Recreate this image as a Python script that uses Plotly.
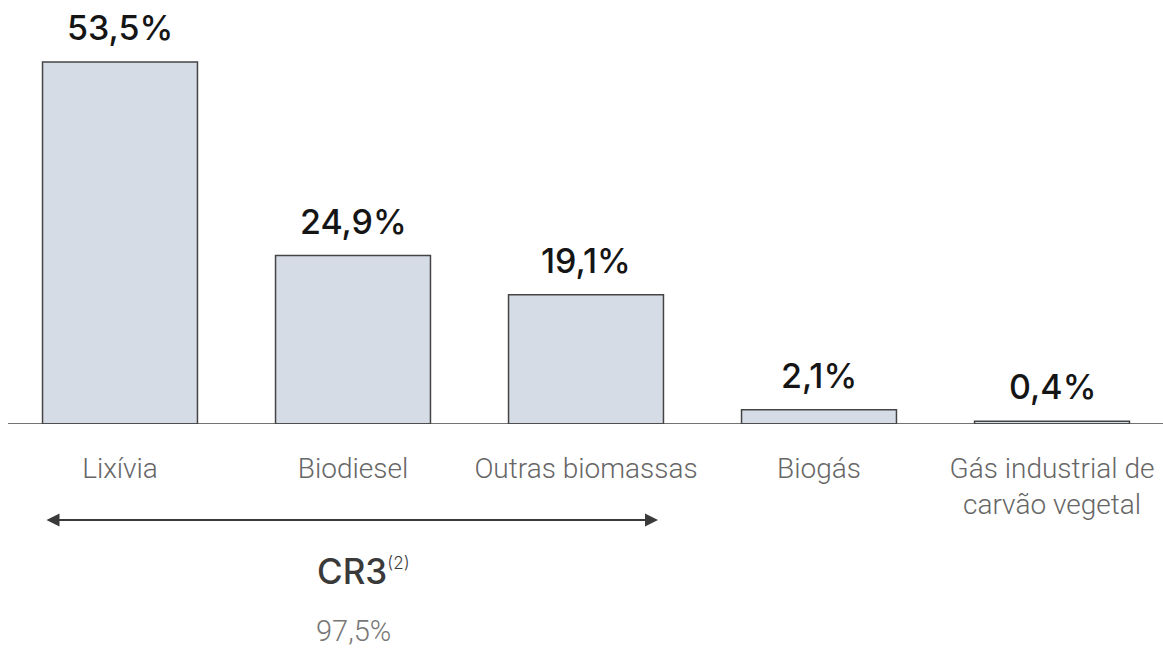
import plotly.graph_objects as go

categories = ["Lixívia", "Biodiesel", "Outras biomassas", "Biogás", "Gás industrial de<br>carvão vegetal"]
values = [53.5, 24.9, 19.1, 2.1, 0.4]
value_labels = ["53,5%", "24,9%", "19,1%", "2,1%", "0,4%"]
cr3_label = "CR3<sup><span style='font-size:17px;font-weight:300'>(2)</span></sup>"
cr3_value = "97,5%"

x_pos = list(range(len(categories)))
PLOT_H = 424  # plot-area height in px (baseline position)

def py(px):
    """paper y for a pixel row measured from the top of the figure"""
    return (PLOT_H - px) / PLOT_H

fig = go.Figure()
fig.add_trace(go.Bar(
    x=x_pos, y=values,
    marker=dict(color="#d6dce5", line=dict(color="#444444", width=1.5)),
    width=0.665,
    hoverinfo="skip",
))

for xi, v, lab in zip(x_pos, values, value_labels):
    fig.add_annotation(x=xi, y=v, text=lab, showarrow=False, yanchor="bottom", yshift=12,
                       font=dict(family="Inter", size=34, color="#151515", weight=500))

# CR3 double arrow spanning the first three categories
fig.add_annotation(x=2.309, y=py(520), ax=-0.322, ay=0, xref="x", yref="paper", axref="x", ayref="pixel",
                   text="", showarrow=True, arrowside="end+start", arrowhead=2, arrowsize=1.3,
                   arrowwidth=2, arrowcolor="#3a3a3a")
fig.add_annotation(x=1.045, y=py(571), xref="x", yref="paper", text=cr3_label, showarrow=False,
                   yanchor="middle",
                   font=dict(family="Inter", size=35, color="#3a3a3a", weight=500))
fig.add_annotation(x=1.0, y=py(650), xref="x", yref="paper", text=cr3_value, showarrow=False,
                   yanchor="bottom",
                   font=dict(family="Roboto", size=29, color="#777777", weight=300))

# baseline
fig.add_shape(type="line", xref="paper", yref="y", x0=8/1163, x1=1, y0=0, y1=0,
              line=dict(color="#444444", width=1.5))

fig.update_layout(
    width=1163, height=650,
    margin=dict(l=0, r=0, t=0, b=650 - PLOT_H),
    plot_bgcolor="white", paper_bgcolor="white",
    showlegend=False,
    xaxis=dict(range=[-120/233, (1163-120)/233], tickvals=x_pos, ticktext=categories,
               showgrid=False, zeroline=False, showline=False, ticks="",
               ticklabelstandoff=25,
               tickfont=dict(family="Roboto", size=28, color="#666666", weight=300)),
    yaxis=dict(range=[0, 53.5*PLOT_H/362], visible=False, showgrid=False, zeroline=False),
)

fig.write_html("out.html", config={"displayModeBar": False},
               post_script="document.body.style.margin='0';")
